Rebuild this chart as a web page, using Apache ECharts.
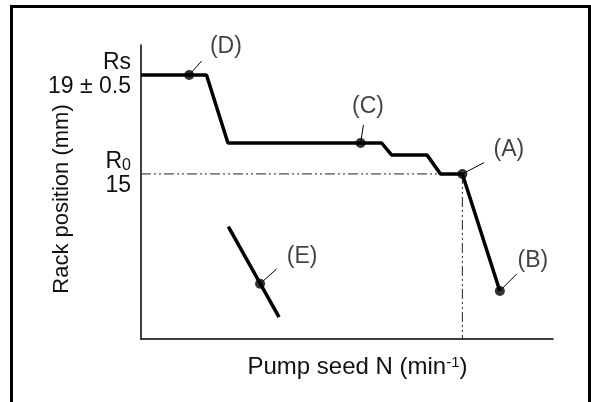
<!DOCTYPE html>
<html>
<head>
<meta charset="utf-8">
<style>
  html, body { margin: 0; padding: 0; background: #fff; }
  #chart { width: 591px; height: 402px; }
</style>
<script src="https://cdn.jsdelivr.net/npm/echarts@6/dist/echarts.min.js"></script>
</head>
<body>
<div id="chart"></div>
<script>
// Governor characteristic: rack position against pump speed (speed in relative units)
const mainSpeed = [0, 15.9, 21.1, 58.4, 60.8, 69.4, 72.7, 78.0, 87.1];
const mainRack  = [19.0, 19.0, 16.25, 16.25, 15.77, 15.77, 15.0, 15.0, 10.27];

// separate short characteristic (E)
const eSpeed = [21.2, 33.5];
const eRack  = [12.87, 9.21];

// marked points with their callouts
const pointNames = ['(A)', '(B)', '(C)', '(D)', '(E)'];
const pointSpeed = [78.0, 87.1, 53.3, 11.7, 28.9];
const pointRack  = [15.0, 10.27, 16.25, 19.0, 10.56];
const leadSpeed  = [83.3, 91.2, 54.0, 14.7, 32.9];
const leadRack   = [15.46, 10.96, 16.98, 19.56, 11.16];
const labelSpeed = [89.3, 95.1, 55.1, 20.6, 39.1];
const labelRack  = [15.97, 11.48, 17.71, 20.13, 11.65];

// reference levels
const r0Rack = 15;
const rsRack = 19;
const aSpeed = 78.0;
const rackTicks = [15, 19];
const rackTickText = { 15: '{sub|R}{s|0}\n15', 19: 'Rs\n19 ± 0.5' };

const speedMin = 0, speedMax = 100;
const rackMin = 8.33, rackMax = 20.21;

const FONT = 'Liberation Sans, Arial, sans-serif';
const INK = '#111';
const FS = 23;

const zip = (a, b) => a.map((v, i) => [v, b[i]]);

const series = [];
series.push({
  type: 'line', data: zip(mainSpeed, mainRack), symbol: 'none',
  lineStyle: { color: '#000', width: 3.5 }, silent: true, z: 5
});
series.push({
  type: 'line', data: zip(eSpeed, eRack), symbol: 'none',
  lineStyle: { color: '#000', width: 3.5 }, silent: true, z: 5
});
// dash-dot-dot reference lines through (A)
series.push({
  type: 'line', data: [[speedMin, r0Rack], [mainSpeed[6], r0Rack]], symbol: 'none',
  lineStyle: { color: '#222', width: 1, type: [10, 3, 2, 3, 2, 3] }, z: 3
});
series.push({
  type: 'line', data: [[aSpeed, r0Rack], [aSpeed, rackMin]], symbol: 'none',
  lineStyle: { color: '#222', width: 1, type: [10, 3, 2, 3, 2, 3] }, z: 3
});
// callout leaders
pointNames.forEach((n, i) => {
  series.push({
    type: 'line', data: [[pointSpeed[i], pointRack[i]], [leadSpeed[i], leadRack[i]]],
    symbol: 'none', lineStyle: { color: '#000', width: 1 }, z: 4
  });
});
// point dots
series.push({
  type: 'scatter', data: zip(pointSpeed, pointRack), symbolSize: 10,
  itemStyle: { color: '#000' }, z: 6
});
// callout labels
series.push({
  type: 'scatter', symbolSize: 0,
  data: pointNames.map((n, i) => ({ value: [labelSpeed[i], labelRack[i]], name: n })),
  label: {
    show: true, position: 'inside', formatter: p => p.name,
    fontFamily: FONT, fontSize: FS, color: INK
  }, z: 6
});

const chart = echarts.init(document.getElementById('chart'));
chart.setOption({
  animation: false,
  backgroundColor: '#fff',
  grid: { left: 141, right: 38, top: 45, bottom: 63 },
  xAxis: {
    type: 'value', min: speedMin, max: speedMax,
    name: '{t|Pump seed N (min}{sup|-1}{t|)}',
    nameLocation: 'middle', nameGap: 16, nameMoveOverlap: false,
    nameTextStyle: {
      padding: [0, 0, 0, 21],
      rich: {
        t: { fontFamily: FONT, fontSize: 24, color: INK },
        sup: { fontFamily: FONT, fontSize: 15, color: INK, verticalAlign: 'top', padding: [0, 0, 9, 0] }
      }
    },
    axisLine: { lineStyle: { color: '#000', width: 1.5 } },
    axisTick: { show: false }, axisLabel: { show: false }, splitLine: { show: false }
  },
  yAxis: {
    type: 'value', min: rackMin, max: rackMax,
    name: 'Rack position (mm)', nameLocation: 'middle', nameGap: 68, nameRotate: 90,
    nameMoveOverlap: false,
    nameTextStyle: { fontFamily: FONT, fontSize: 22, color: INK, padding: [0, 14, 0, 0] },
    axisLine: { show: true, lineStyle: { color: '#000', width: 1.5 } },
    axisTick: { show: false }, splitLine: { show: false },
    axisLabel: {
      customValues: rackTicks, margin: 10,
      formatter: v => rackTickText[v] || '',
      fontFamily: FONT, fontSize: FS, color: INK, lineHeight: 24, align: 'right',
      rich: {
        sub: { fontFamily: FONT, fontSize: FS, color: INK, lineHeight: 24 },
        s: { fontFamily: FONT, fontSize: 16, color: INK, lineHeight: 24, verticalAlign: 'bottom' }
      }
    }
  },
  graphic: [{
    type: 'polyline', silent: true,
    shape: { points: [[11.5, 402], [11.5, 6.5], [589.5, 6.5], [589.5, 402]] },
    style: { stroke: '#000', lineWidth: 3, fill: null }
  }],
  series: series
});
</script>
</body>
</html>
